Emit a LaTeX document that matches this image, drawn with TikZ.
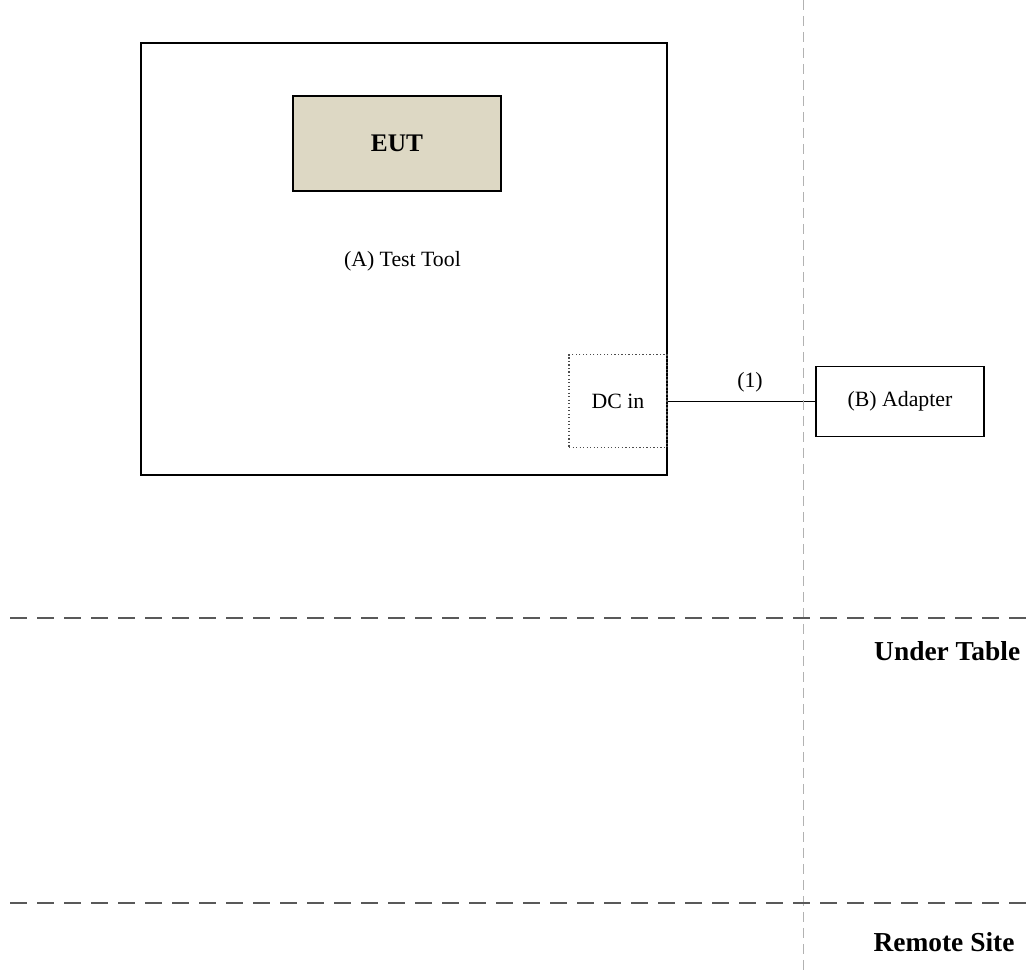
\documentclass[tikz,border=0pt]{standalone}
\usepackage{fontspec}
\setmainfont{Liberation Serif}
\begin{document}
\begin{tikzpicture}[
  % Node styles
  box/.style={draw=black, line width=0.8pt, inner sep=0pt, font=\fontsize{15.5}{18}\selectfont},
  tool/.style={box, minimum width=13.15cm, minimum height=10.8cm},
  eut/.style={box, fill=eutfill, minimum width=5.2cm, minimum height=2.375cm, font=\fontsize{18}{21}\selectfont\bfseries},
  port/.style={box, draw=gray!60!black, dash pattern=on 0.9pt off 1.6pt, line width=0.9pt, minimum width=2.45cm, minimum height=2.325cm},
  adapter/.style={box, minimum width=4.2cm, minimum height=1.75cm},
  % Line styles
  cable/.style={black, line width=0.9pt},
  divider/.style={gray!70!black, line width=1.4pt, dash pattern=on 0.425cm off 0.25cm},
  split/.style={gray!60, line width=0.6pt, dash pattern=on 0.25cm off 0.15cm},
  % Label styles
  lbl/.style={font=\fontsize{15.5}{18}\selectfont, inner sep=1pt},
  zone/.style={font=\fontsize{19.5}{23}\selectfont\bfseries, inner sep=0pt},
]
\definecolor{eutfill}{HTML}{DDD8C4}
\useasboundingbox (0,0) rectangle (25.7,-24.25);

% === TEST TOOL ===
\node[tool] (tool) at (10.1, -6.475) {};
\node[eut]  (eut)  at (9.925, -3.5875) {EUT};
\node[lbl]  (toollbl) at (10.06, -6.53) {(A) Test Tool};
\node[port] (dcin) at (15.45, -10.03) {DC in};

% === ADAPTER ===
\node[adapter] (adapter) at (22.5, -10.03) {(B) Adapter};

% === CABLE ===
\draw[cable] (dcin.east) -- (adapter.west) node[lbl, pos=0.557, above=5pt] {(1)};

% === ZONE LINES ===
\coordinate (vtop) at (20.075, 0);
\coordinate (vbot) at (20.075, -24.25);
\draw[split] (vtop) -- (vbot);

\coordinate (tableL) at (0.25, -15.45);
\coordinate (tableR) at (25.7, -15.45);
\draw[divider] (tableL) -- (tableR);
\coordinate (remoteL) at (0.25, -22.575);
\coordinate (remoteR) at (25.7, -22.575);
\draw[divider] (remoteL) -- (remoteR);

\node[zone] (under)  at (23.68, -16.275) {Under Table};
\node[zone] (remote) at (23.6, -23.55) {Remote Site};

\end{tikzpicture}
\end{document}
